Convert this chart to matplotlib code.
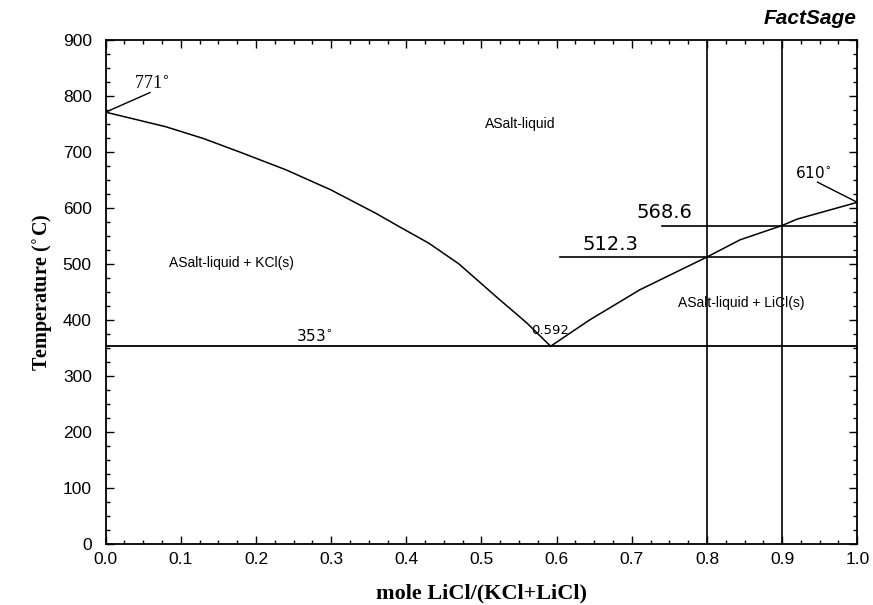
import matplotlib.pyplot as plt
from matplotlib.ticker import MultipleLocator

# KCl-LiCl phase diagram (FactSage)

# liquidus, KCl-rich side (down to the eutectic)
x_kcl_side = [0.0, 0.08, 0.13, 0.18, 0.24, 0.30, 0.36, 0.39, 0.43, 0.47, 0.52, 0.56, 0.592]
t_kcl_side = [771, 745, 724, 699, 668, 632, 590, 567, 537, 500, 441, 395, 353]

# liquidus, LiCl-rich side (from the eutectic up)
x_licl_side = [0.592, 0.644, 0.711, 0.80, 0.844, 0.90, 0.92, 1.0]
t_licl_side = [353, 400, 454, 512.3, 543, 568.6, 580, 610]

t_eutectic = 353
x_eutectic = 0.592
marked_x = [0.8, 0.9]
marked_t = [512.3, 568.6]
marked_t_start = [0.605, 0.74]

fig = plt.figure(figsize=(8.73, 6.05), dpi=100)
ax = fig.add_axes([0.121, 0.101, 0.861, 0.833])

ax.plot(x_kcl_side, t_kcl_side, color='black', lw=1.1)
ax.plot(x_licl_side, t_licl_side, color='black', lw=1.1)
ax.plot([0, 1], [t_eutectic, t_eutectic], color='black', lw=1.3)

for xv in marked_x:
    ax.axvline(xv, color='black', lw=1.2)
for x0, tv in zip(marked_t_start, marked_t):
    ax.plot([x0, 1.0], [tv, tv], color='black', lw=1.2)

# leader lines for melting points
ax.plot([0.0, 0.059], [771, 806], color='black', lw=1.0)
ax.plot([1.0, 0.947], [610, 646], color='black', lw=1.0)

ax.text(0.038, 805, '771$^{\\circ}$', family='Liberation Serif', fontsize=13,
        ha='left', va='bottom')
ax.text(0.917, 648, '610$^{\\circ}$', family='DejaVu Sans', fontsize=11,
        ha='left', va='bottom')
ax.text(0.253, 357, '353$^{\\circ}$', family='DejaVu Sans', fontsize=11,
        ha='left', va='bottom')
ax.text(0.566, 370, '%.3f' % x_eutectic, family='DejaVu Sans', fontsize=9.5,
        ha='left', va='bottom')
ax.text(0.706, 575, '568.6', family='DejaVu Sans', fontsize=14,
        ha='left', va='bottom')
ax.text(0.634, 518, '512.3', family='DejaVu Sans', fontsize=14,
        ha='left', va='bottom')

region_font = dict(family='Liberation Sans', fontsize=10, ha='center', va='center')
ax.text(0.551, 749, 'ASalt-liquid', **region_font)
ax.text(0.168, 502, 'ASalt-liquid + KCl(s)', **region_font)
ax.text(0.845, 431, 'ASalt-liquid + LiCl(s)', **region_font)

ax.set_xlim(0, 1)
ax.set_ylim(0, 900)
ax.xaxis.set_major_locator(MultipleLocator(0.1))
ax.xaxis.set_minor_locator(MultipleLocator(0.025))
ax.yaxis.set_major_locator(MultipleLocator(100))
ax.yaxis.set_minor_locator(MultipleLocator(25))
ax.xaxis.set_major_formatter(plt.FuncFormatter(lambda v, p: f'{v:.1f}'))
ax.tick_params(which='both', direction='in', top=True, right=True, width=1.0,
               labelsize=12.5)
ax.tick_params(axis='x', which='major', pad=6)
ax.tick_params(axis='y', which='major', pad=10)
ax.tick_params(which='major', length=6)
ax.tick_params(which='minor', length=3)
for lab in ax.get_xticklabels() + ax.get_yticklabels():
    lab.set_family('Liberation Sans')
for sp in ax.spines.values():
    sp.set_linewidth(1.3)

ax.set_xlabel('mole LiCl/(KCl+LiCl)', family='Liberation Serif',
              fontweight='bold', fontsize=16, labelpad=12)
ax.set_ylabel('Temperature ($^{\\circ}$C)', family='Liberation Serif',
              fontweight='bold', fontsize=14.5, labelpad=6)

fig.text(0.981, 0.953, 'FactSage', family='Liberation Sans', fontweight='bold',
         style='italic', fontsize=15, ha='right', va='bottom')

fig.savefig('out.png', dpi=100)
